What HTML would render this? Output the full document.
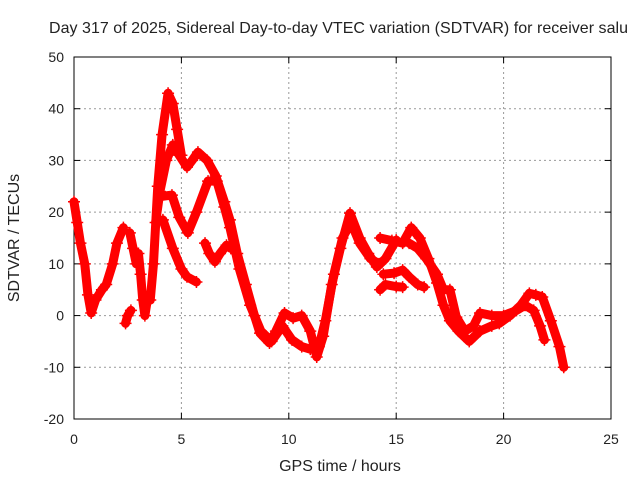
<!DOCTYPE html>
<html><head><meta charset="utf-8"><style>
body{margin:0;background:#fff}
svg{display:block;font-family:"Liberation Sans",sans-serif}
</style></head><body>
<svg id="c" width="640" height="480"></svg>
<script>
const xTicks=[0,5,10,15,20,25];
const yTicks=[-20,-10,0,10,20,30,40,50];
const traceA=[[0,22],[0.15,18],[0.3,14],[0.5,10],[0.65,4],[0.8,0.5],[1.0,3],[1.3,5],[1.5,6],[1.8,10],[2.0,14],[2.3,17]];
const traceB=[[2.4,-1.5],[2.5,0],[2.65,1]];
const traceC=[[2.6,16],[2.75,13],[2.9,10],[3.0,12],[3.1,8],[3.2,3],[3.3,0],[3.45,4],[3.55,3],[3.7,10],[3.9,25],[4.1,35],[4.38,43],[4.6,41],[4.8,36],[5.0,31]];
const traceD=[[3.8,18],[4.0,24],[4.3,30],[4.6,33],[4.9,31],[5.26,28.7],[5.5,30],[5.77,31.6],[6.2,30],[6.6,27],[7.0,22],[7.26,18.5],[7.6,12],[8.0,6],[8.4,0],[8.66,-3.4],[9.1,-5.3],[9.4,-3],[9.8,0.5],[10.2,-0.5],[10.6,0],[11.0,-3],[11.3,-8],[11.6,-4],[12.0,6],[12.4,13],[12.85,19.8],[13.3,15],[13.7,12],[14.1,9.4],[14.5,11],[15.0,14.6]];
const traceE=[[4.0,23],[4.56,23.3],[4.9,19],[5.3,16],[5.7,20],[6.24,26],[6.65,26],[7.0,21],[7.26,17],[7.7,9],[8.2,2],[8.7,-3],[9.2,-5],[9.7,-2],[10.15,-4.7],[10.6,-6],[11.0,-6.5],[11.4,-6],[11.7,-1],[12.1,8],[12.5,15],[12.9,18],[13.3,14],[13.8,11],[14.2,10]];
const traceF=[[4.14,18.5],[4.6,13],[5.0,9],[5.26,7.5],[5.7,6.5]];
const traceG=[[6.1,14],[6.3,12],[6.56,10.4],[6.8,12],[7.1,13.6],[7.3,13]];
const traceH=[[14.25,15],[14.8,14.5],[15.3,14],[15.7,17],[16.1,15],[16.5,11],[16.9,6.3],[17.2,2],[17.5,-1],[17.9,-3],[18.4,-5],[18.9,-3],[19.45,-2],[19.8,-1.5],[20.3,0],[20.8,2],[21.2,4.3],[21.5,4],[21.8,3.6],[22.2,-1],[22.6,-6],[22.8,-10]];
const traceI=[[15.6,14],[16.0,13],[16.4,11],[16.9,8],[17.2,5],[17.5,5],[17.8,-0.3],[18.2,-3],[18.6,-2],[18.9,0.5],[19.45,0],[20.0,0],[20.6,1],[21.0,2],[21.4,1],[21.7,-2],[21.9,-4.7]];
const traceJ=[[14.4,8],[14.9,8.2],[15.3,8.8],[15.6,7.5],[16.0,6],[16.3,5.5]];
const traceK=[[14.25,5],[14.5,6],[15.0,5.6],[15.3,5.5]];
const traces=[traceA,traceB,traceC,traceD,traceE,traceF,traceG,traceH,traceI,traceJ,traceK];
const NS="http://www.w3.org/2000/svg";
const svg=document.getElementById('c');
const X0=74,X1=611,Y0=419,Y1=57;
const xs=v=>X0+(v-0)/25*(X1-X0);
const ys=v=>Y0-(v+20)/70*(Y0-Y1);
function mk(t,a,p){const e=document.createElementNS(NS,t);for(const k in a)e.setAttribute(k,a[k]);(p||svg).appendChild(e);return e;}
const grid=mk('g',{});


xTicks.forEach(t=>{
  if(t>0&&t<25)mk('line',{x1:xs(t),x2:xs(t),y1:Y1,y2:Y0,stroke:'#999','stroke-dasharray':'2,3'},grid);
  const l=mk('text',{x:xs(t),y:444,'text-anchor':'middle','font-size':14,fill:'#222'});l.textContent=t;
  
  
  mk('line',{x1:xs(t),x2:xs(t),y1:Y0,y2:Y0-6,stroke:'#000'});
  mk('line',{x1:xs(t),x2:xs(t),y1:Y1,y2:Y1+6,stroke:'#000'});
});
yTicks.forEach(t=>{
  if(t>-20&&t<50)mk('line',{x1:X0,x2:X1,y1:ys(t),y2:ys(t),stroke:'#999','stroke-dasharray':'2,3'},grid);
  const l=mk('text',{x:X0-10,y:ys(t)+5,'text-anchor':'end','font-size':14,fill:'#222'});l.textContent=t;
  
  
  mk('line',{x1:X0,x2:X0+6,y1:ys(t),y2:ys(t),stroke:'#000'});
  mk('line',{x1:X1,x2:X1-6,y1:ys(t),y2:ys(t),stroke:'#000'});
});
const frame=mk('rect',{x:X0,y:Y1,width:X1-X0,height:Y0-Y1,fill:'none',stroke:'#000'});


const series=mk('g',{});


traces.forEach(tr=>{
  const pl=mk('polyline',{points:tr.map(p=>xs(p[0])+','+ys(p[1])).join(' '),fill:'none',stroke:'#f00','stroke-width':9,'stroke-linejoin':'round','stroke-linecap':'round'},series);
  
  
  tr.forEach(p=>{
    const x=xs(p[0]),y=ys(p[1]);
    const m=mk('path',{d:`M${x-6},${y}H${x+6}M${x},${y-6}V${y+6}`,stroke:'#f00','stroke-width':1.5},series);
    
    
  });
});
function txt(s,a,n){const e=mk('text',a);e.textContent=s;return e;}
txt('Day 317 of 2025, Sidereal Day-to-day VTEC variation (SDTVAR) for receiver salu',{x:49,y:33,'font-size':16,fill:'#222',textLength:579},'chart-title');
txt('GPS time / hours',{x:340,y:471,'text-anchor':'middle','font-size':16,fill:'#222'},'x-axis-title');
txt('SDTVAR / TECUs',{x:19,y:238,'text-anchor':'middle','font-size':16,fill:'#222',transform:'rotate(-90 19 238)'},'y-axis-title');
</script>
</body></html>
